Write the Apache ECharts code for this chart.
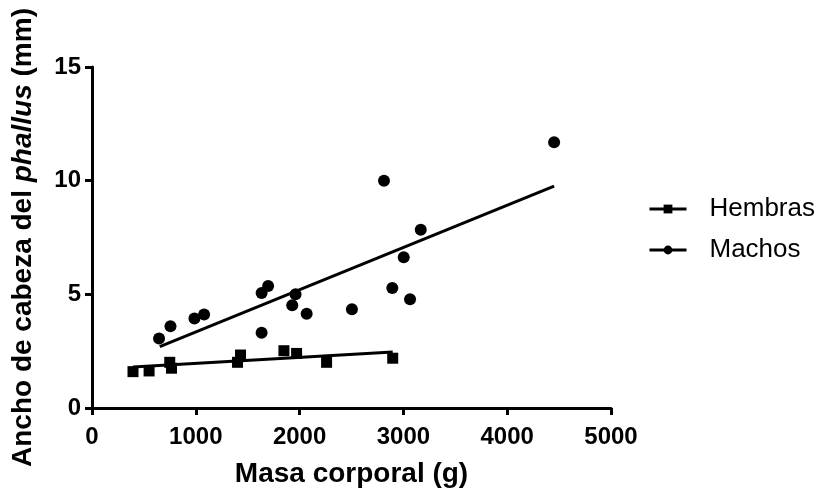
<!DOCTYPE html>
<html>
<head>
<meta charset="utf-8">
<script src="https://cdn.jsdelivr.net/npm/echarts@6/dist/echarts.min.js"></script>
<style>
  html, body { margin: 0; padding: 0; background: #fff; }
  #chart { width: 819px; height: 493px; }
</style>
</head>
<body>
<div id="chart"></div>
<script>
// Hembras: masa corporal (g) / ancho (mm)
const hembrasX = [395, 550, 749, 766, 1402, 1431, 1849, 1971, 2260, 2897];
const hembrasY = [1.60, 1.63, 2.01, 1.75, 2.01, 2.33, 2.52, 2.40, 2.01, 2.19];
// Machos
const machosX = [646, 756, 987, 1080, 1634, 1634, 1697, 1961, 1929, 2068, 2504, 4452, 2813, 3167, 3003, 2893, 3064];
const machosY = [3.06, 3.60, 3.94, 4.11, 3.31, 5.06, 5.37, 5.00, 4.52, 4.15, 4.34, 11.69, 10.00, 7.84, 6.63, 5.28, 4.78];
// rectas de regresión (extremos)
const hembrasFit = [[395, 1.80], [2897, 2.46]];
const machosFit = [[653, 2.70], [4452, 9.76]];
const xTicks = [0, 1000, 2000, 3000, 4000, 5000];
const yTicks = [0, 5, 10, 15];

const FONT = "'Liberation Sans', Arial, sans-serif";
const chart = echarts.init(document.getElementById('chart'));

const zip = (xs, ys) => xs.map((x, i) => [x, ys[i]]);
const axisLine = { lineStyle: { color: '#000', width: 3 } };
const axisTick = { show: true, length: 7, lineStyle: { color: '#000', width: 3 } };

chart.setOption({
    animation: false,
    grid: { left: 92, right: 208, top: 67, bottom: 79 },
    legend: {
        data: ['Hembras', 'Machos'],
        orient: 'vertical',
        left: 648, top: 196, padding: 0,
        itemWidth: 37, itemHeight: 11, itemGap: 15,
        lineStyle: { width: 3 },
        textStyle: { fontFamily: FONT, fontSize: 26, color: '#000', padding: [0, 0, 0, 18] }
    },
    xAxis: {
        type: 'value', min: xTicks[0], max: xTicks[xTicks.length - 1], interval: 1000,
        name: 'Masa corporal (g)', nameLocation: 'middle', nameGap: 52,
        nameTextStyle: { fontFamily: FONT, fontSize: 28, fontWeight: 'bold', color: '#000' },
        axisLine, axisTick,
        axisLabel: { fontFamily: FONT, fontSize: 24, fontWeight: 'bold', color: '#000', margin: 17,
                     formatter: v => String(v) },
        splitLine: { show: false }
    },
    yAxis: {
        type: 'value', min: yTicks[0], max: yTicks[yTicks.length - 1], interval: 5,
        name: 'Ancho de cabeza del {i|phallus} (mm)', nameLocation: 'middle', nameGap: 55, nameRotate: 90,
        nameTextStyle: {
            fontFamily: FONT, fontSize: 28, fontWeight: 'bold', color: '#000',
            rich: { i: { fontFamily: FONT, fontSize: 28, fontWeight: 'bold', fontStyle: 'italic', color: '#000' } }
        },
        axisLine: { show: true, ...axisLine }, axisTick,
        axisLabel: { fontFamily: FONT, fontSize: 24, fontWeight: 'bold', color: '#000', margin: 11 },
        splitLine: { show: false }
    },
    series: [
        { name: 'Hembras', type: 'line', data: hembrasFit, symbol: 'rect', showSymbol: false,
          lineStyle: { color: '#000', width: 3 }, itemStyle: { color: '#000' }, z: 2 },
        { name: 'Machos', type: 'line', data: machosFit, symbol: 'circle', showSymbol: false,
          lineStyle: { color: '#000', width: 3 }, itemStyle: { color: '#000' }, z: 2 },
        { name: 'Hembras', type: 'scatter', data: zip(hembrasX, hembrasY), symbol: 'rect', symbolSize: 11,
          itemStyle: { color: '#000', opacity: 1 }, z: 3 },
        { name: 'Machos', type: 'scatter', data: zip(machosX, machosY), symbol: 'circle', symbolSize: 12,
          itemStyle: { color: '#000', opacity: 1 }, z: 3 }
    ]
});

window.onresize = () => chart.resize();
</script>
</body>
</html>
